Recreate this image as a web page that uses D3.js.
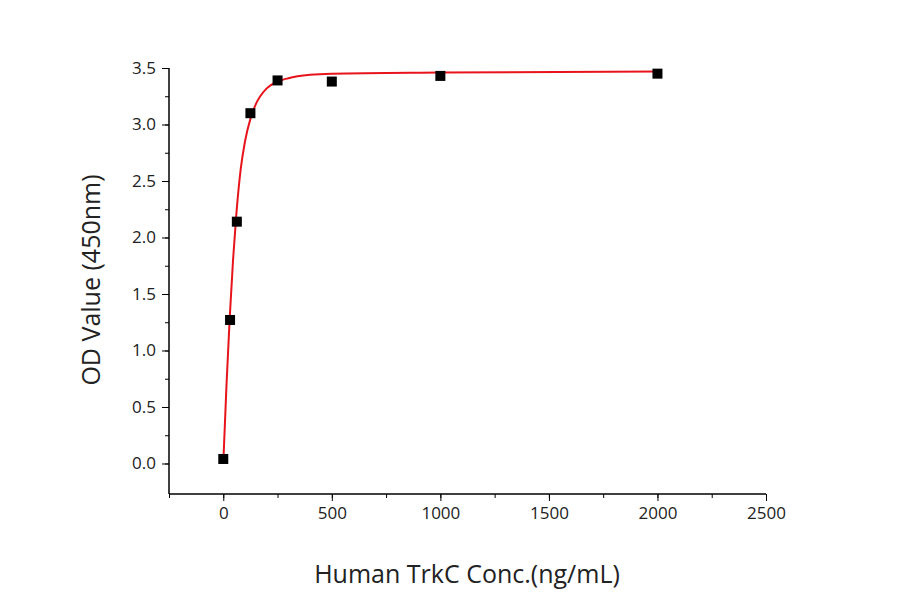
<!DOCTYPE html>
<html><head><meta charset="utf-8">
<script src="https://cdn.jsdelivr.net/npm/d3@7"></script>
<style>body{margin:0;background:#fff}text{font-family:"Open Sans",sans-serif;fill:#222}</style>
</head><body>
<script>
// measured points
const conc = [0, 31.25, 62.5, 125, 250, 500, 1000, 2000];
const od = [0.04, 1.27, 2.14, 3.10, 3.39, 3.38, 3.43, 3.45];
// fitted curve
const fitX = [0, 15, 30, 45, 60, 80, 100, 125, 150, 200, 250, 300, 400, 500, 1000, 2000];
const fitY = [0.0, 0.7, 1.3, 1.8, 2.2, 2.6, 2.85, 3.05, 3.18, 3.32, 3.38, 3.41, 3.44, 3.45, 3.46, 3.47];
const xTicks = [0, 500, 1000, 1500, 2000, 2500];
const yTicks = [0, 0.5, 1, 1.5, 2, 2.5, 3, 3.5];

let svg = d3.select("body").append("svg").attr("width", 900).attr("height", 594);
let x = d3.scaleLinear().domain([-250, 2500]).range([169, 766]);
let y = d3.scaleLinear().domain([-0.27, 3.5]).range([494, 68]);

svg.append("g").attr("transform", "translate(0,494)")
   .call(d3.axisBottom(x).tickValues(d3.range(-250, 2501, 250)).tickSize(4).tickFormat(""))
   .call(g => g.select(".domain").remove());
svg.append("g").attr("transform", "translate(0,494)")
   .call(d3.axisBottom(x).tickValues(xTicks).tickSize(7).tickSizeOuter(0).tickPadding(6).tickFormat(d3.format("d")))
   .call(g => g.select(".domain").attr("d", "M169,0H766").attr("stroke-width", 1.5))
   .selectAll("text").style("font-size", "17px");

svg.append("g").attr("transform", "translate(169,0)")
   .call(d3.axisLeft(y).tickValues(d3.range(0, 3.51, 0.25)).tickSize(4).tickFormat(""))
   .call(g => g.select(".domain").remove());
svg.append("g").attr("transform", "translate(169,0)")
   .call(d3.axisLeft(y).tickValues(yTicks).tickSize(7).tickSizeOuter(0).tickPadding(6).tickFormat(d3.format(".1f")))
   .call(g => g.select(".domain").attr("d", "M0,68V494").attr("stroke-width", 1.5))
   .selectAll("text").style("font-size", "17px");

let line = d3.line().x((d, i) => x(fitX[i])).y(d => y(d)).curve(d3.curveMonotoneX);
svg.append("path").datum(fitY).attr("d", line)
   .style("fill", "none").style("stroke", "#e8141c").style("stroke-width", 2);

svg.append("g").selectAll("rect").data(od).enter().append("rect")
   .attr("x", (d, i) => x(conc[i]) - 5).attr("y", d => y(d) - 5)
   .attr("width", 10).attr("height", 10).style("fill", "#000");

svg.append("text").attr("x", 467).attr("y", 583).attr("text-anchor", "middle")
   .style("font-size", "25px").text("Human TrkC Conc.(ng/mL)");
svg.append("text").attr("transform", "translate(100,280) rotate(-90)").attr("text-anchor", "middle")
   .style("font-size", "25px").text("OD Value (450nm)");
</script>
</body></html>
